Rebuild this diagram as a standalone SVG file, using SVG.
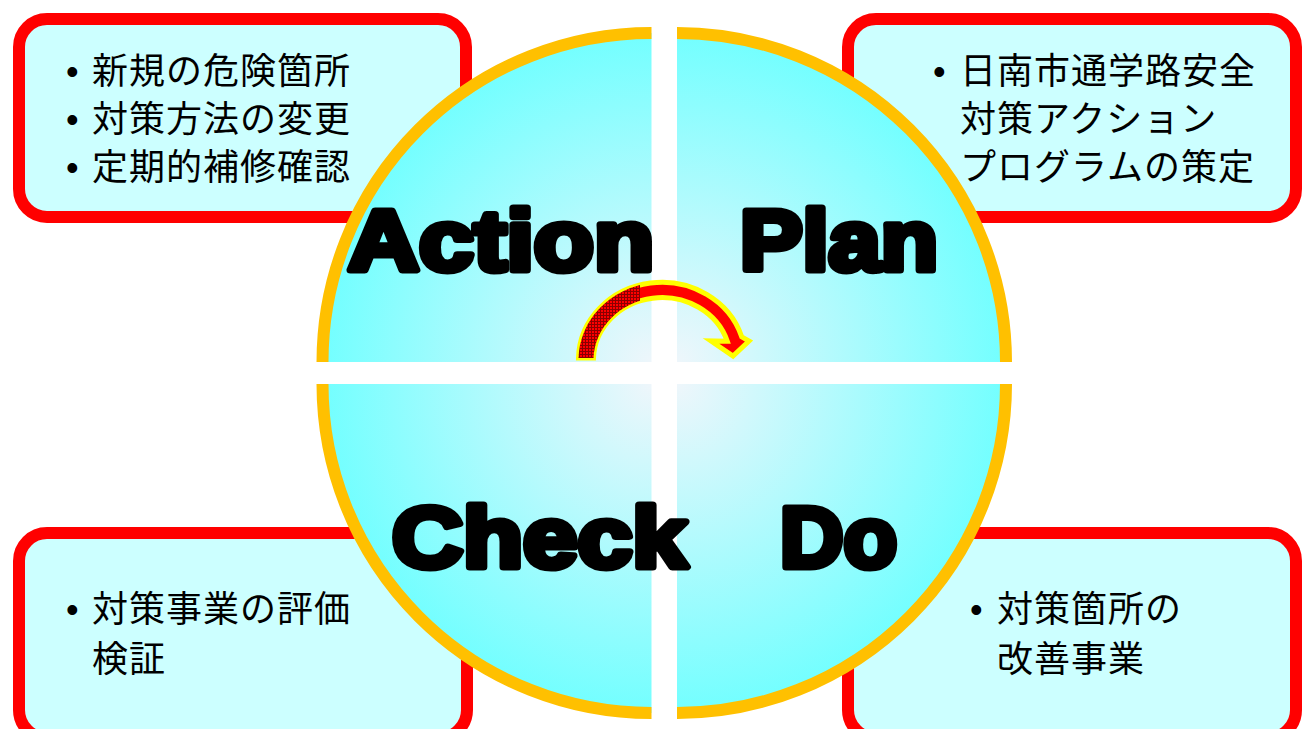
<svg xmlns="http://www.w3.org/2000/svg" width="1303" height="729" viewBox="0 0 1303 729">
<style>
.box{fill:#CCFFFF;stroke:#FF0000;stroke-width:12}
.rim{fill:none;stroke:#FFC000;stroke-width:12;stroke-linecap:butt}
.jp{font-family:"Noto Sans CJK JP","Noto Sans CJK SC",sans-serif;font-size:36px;letter-spacing:1px;fill:#000}
.bul{font-family:"Liberation Sans",Arial,sans-serif;font-size:36px;fill:#000}
.big{font-family:"Liberation Sans",Arial,sans-serif;font-weight:bold;font-size:86px;fill:#000;stroke:#000;stroke-width:7;stroke-linejoin:round}
</style>
<defs>
<radialGradient id="gTL" gradientUnits="userSpaceOnUse" cx="651.5" cy="362" r="335"><stop offset="0" stop-color="#EEF6FB"/><stop offset="1" stop-color="#70FFFF"/></radialGradient>
<radialGradient id="gTR" gradientUnits="userSpaceOnUse" cx="677" cy="362" r="335"><stop offset="0" stop-color="#EEF6FB"/><stop offset="1" stop-color="#70FFFF"/></radialGradient>
<radialGradient id="gBL" gradientUnits="userSpaceOnUse" cx="651.5" cy="384" r="335"><stop offset="0" stop-color="#EEF6FB"/><stop offset="1" stop-color="#70FFFF"/></radialGradient>
<radialGradient id="gBR" gradientUnits="userSpaceOnUse" cx="677" cy="384" r="335"><stop offset="0" stop-color="#EEF6FB"/><stop offset="1" stop-color="#70FFFF"/></radialGradient>
<pattern id="hatch" patternUnits="userSpaceOnUse" width="3" height="3">
<rect width="3" height="3" fill="#FF0000"/>
<path d="M0,0.5H3M0.5,0V3" stroke="#8B0000" stroke-width="1"/>
</pattern>
<clipPath id="leftPart"><rect x="560" y="270" width="80" height="100"/></clipPath>
<path id="arrowShape" d="M578.5,358 A83.5,77.5 0 0 1 741.7,336.8 L749,341 L733,356 L711,341 L727.3,341.3 A68.5,62.5 0 0 0 593.5,358 Z"/>
</defs>

<g id="box-action">
<rect class="box" x="19" y="19" width="447" height="198" rx="28"/>
<text class="bul" x="66" y="84">•</text>
<text class="jp" x="92" y="84">新規の危険箇所</text>
<text class="bul" x="66" y="132">•</text>
<text class="jp" x="92" y="132">対策方法の変更</text>
<text class="bul" x="66" y="180">•</text>
<text class="jp" x="92" y="180">定期的補修確認</text>
</g>
<g id="box-plan">
<rect class="box" x="848" y="19" width="448" height="198" rx="28"/>
<text class="bul" x="933" y="84">•</text>
<text class="jp" x="960" y="84">日南市通学路安全</text>
<text class="jp" x="960" y="132">対策アクション</text>
<text class="jp" x="960" y="180">プログラムの策定</text>
</g>
<g id="box-check">
<rect class="box" x="19" y="533" width="448" height="205" rx="28"/>
<text class="bul" x="66" y="622">•</text>
<text class="jp" x="92" y="622">対策事業の評価</text>
<text class="jp" x="92" y="672">検証</text>
</g>
<g id="box-do">
<rect class="box" x="848" y="533" width="448" height="205" rx="28"/>
<text class="bul" x="970" y="622">•</text>
<text class="jp" x="997" y="622">対策箇所の</text>
<text class="jp" x="997" y="672">改善事業</text>
</g>

<g id="quadrant-action">
<path d="M651.5,362 L322.5,362 A329,329 0 0 1 651.5,33 Z" fill="url(#gTL)"/>
<path class="rim" d="M322.5,362 A329,329 0 0 1 651.5,33"/>
</g>
<g id="quadrant-plan">
<path d="M677,362 L677,33 A329,329 0 0 1 1006,362 Z" fill="url(#gTR)"/>
<path class="rim" d="M677,33 A329,329 0 0 1 1006,362"/>
</g>
<g id="quadrant-do">
<path d="M677,384 L1006,384 A329,329 0 0 1 677,713 Z" fill="url(#gBR)"/>
<path class="rim" d="M1006,384 A329,329 0 0 1 677,713"/>
</g>
<g id="quadrant-check">
<path d="M651.5,384 L651.5,713 A329,329 0 0 1 322.5,384 Z" fill="url(#gBL)"/>
<path class="rim" d="M651.5,713 A329,329 0 0 1 322.5,384"/>
</g>

<g id="connectors">
<use href="#arrowShape" fill="#FF0000" stroke="#FFFF00" stroke-width="5"/>
<use href="#arrowShape" fill="url(#hatch)" clip-path="url(#leftPart)"/>
</g>

<g id="labels">
<text class="big" x="348" y="270" textLength="306" lengthAdjust="spacingAndGlyphs">Action</text>
<text class="big" x="740" y="270" textLength="198" lengthAdjust="spacingAndGlyphs">Plan</text>
<text class="big" x="392" y="567" textLength="295" lengthAdjust="spacingAndGlyphs">Check</text>
<text class="big" x="780" y="567" textLength="117" lengthAdjust="spacingAndGlyphs">Do</text>
</g>
</svg>
